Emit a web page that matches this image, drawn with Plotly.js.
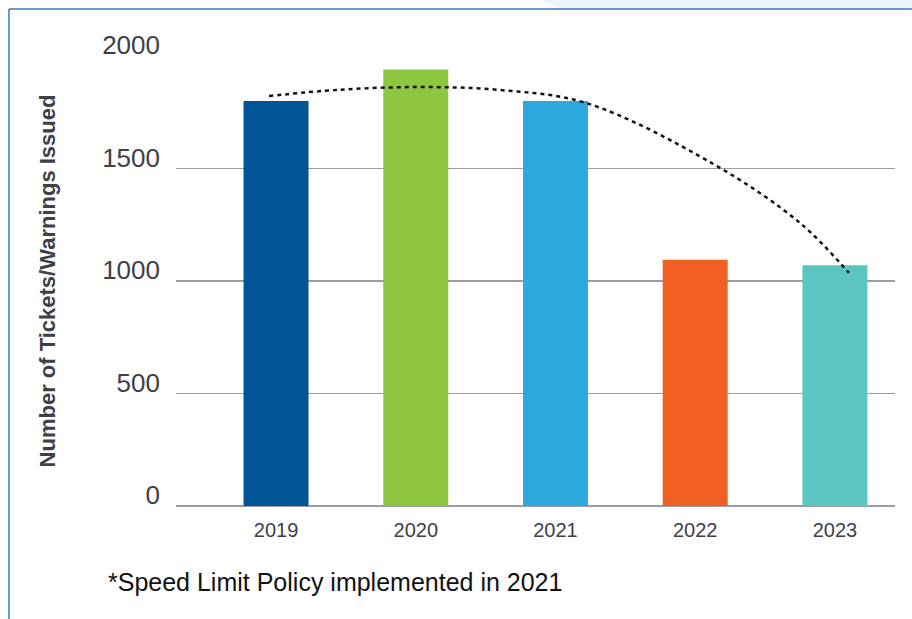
<!DOCTYPE html>
<html>
<head>
<meta charset="utf-8">
<script src="https://cdn.plot.ly/plotly-3.0.1.min.js"></script>
<style>
  html, body { margin: 0; padding: 0; background: #ffffff; }
  #chart { width: 912px; height: 619px; }
</style>
</head>
<body>
<div id="chart"></div>
<script>
// Data
const years = ['2019', '2020', '2021', '2022', '2023'];
const tickets = [1800, 1940, 1800, 1095, 1070];
const barColors = ['#005596', '#8dc63f', '#2ea9e0', '#f06022', '#5bc5c2'];
// Hand-drawn trend arc (position along the year axis, value)
const arcX = [-0.05, 0.45, 1.03, 1.6, 2.22, 3.13, 3.75, 4.1];
const arcY = [1822, 1850, 1862, 1849, 1791, 1520, 1258, 1036];
const footnote = '*Speed Limit Policy implemented in 2021';
const yTitle = 'Number of Tickets/Warnings Issued';

const positions = years.map((_, i) => i);

const bars = {
  type: 'bar',
  x: positions,
  y: tickets,
  marker: { color: barColors, line: { width: 0 } },
  width: 0.465,
  hoverinfo: 'x+y',
  showlegend: false
};

const arc = {
  type: 'scatter',
  mode: 'lines',
  x: arcX,
  y: arcY,
  line: { color: '#111111', width: 2.5, dash: '4px,4px', shape: 'spline', smoothing: 1.0 },
  hoverinfo: 'skip',
  showlegend: false
};

const textColor = '#3d4048';

const layout = {
  width: 912,
  height: 619,
  margin: { l: 176, r: 17, t: 56, b: 113 },
  paper_bgcolor: '#ffffff',
  plot_bgcolor: '#ffffff',
  showlegend: false,
  font: { family: 'Liberation Sans, Arial, sans-serif', color: textColor },
  xaxis: {
    type: 'linear',
    range: [-0.716, 4.43],
    tickmode: 'array',
    tickvals: positions,
    ticktext: years,
    showgrid: false,
    zeroline: false,
    showline: false,
    ticks: '',
    ticklabelstandoff: 10,
    tickfont: { size: 20, color: textColor, family: 'Liberation Sans, Arial, sans-serif' },
    fixedrange: true
  },
  yaxis: {
    range: [0, 2000],
    tickmode: 'array',
    tickvals: [0, 500, 1000, 1500, 2000],
    ticktext: ['0', '500', '1000', '1500', '2000'],
    showgrid: true,
    gridcolor: '#9c9ca2',
    gridwidth: 1.5,
    zeroline: true,
    zerolinecolor: '#9c9ca2',
    zerolinewidth: 1.5,
    showline: false,
    ticks: '',
    ticklabelstandoff: 15,
    ticklabelshift: -11,
    tickfont: { size: 26, color: textColor, family: 'Liberation Sans, Arial, sans-serif' },
    title: {
      text: '<b>' + yTitle + '</b>',
      font: { size: 22, color: textColor, family: 'Liberation Sans, Arial, sans-serif' },
      standoff: 40
    },
    automargin: false,
    fixedrange: true
  },
  shapes: [
    // light blue header tab at top right
    {
      type: 'path', xref: 'paper', yref: 'paper',
      path: 'M 0.51,1.1245 L 1.0236,1.1245 L 1.0236,1.1044 L 0.535,1.1044 Z',
      fillcolor: '#eaf5fc', line: { width: 0 }, layer: 'below'
    },
    // frame: top line
    {
      type: 'line', xref: 'paper', yref: 'paper',
      x0: -0.2323, x1: 1.0236, y0: 1.1044, y1: 1.1044,
      line: { color: '#3a78b8', width: 1.5 }
    },
    // frame: left line
    {
      type: 'line', xref: 'paper', yref: 'paper',
      x0: -0.2323, x1: -0.2323, y0: 1.1044, y1: -0.26,
      line: { color: '#3a78b8', width: 1.5 }
    }
  ],
  annotations: [
    {
      text: footnote,
      xref: 'paper', yref: 'paper',
      x: -0.0974, y: -0.169,
      xanchor: 'left', yanchor: 'middle',
      showarrow: false,
      font: { size: 25, color: '#111111', family: 'Liberation Sans, Arial, sans-serif' }
    }
  ]
};

Plotly.newPlot('chart', [bars, arc], layout, { displayModeBar: false, staticPlot: true });
</script>
</body>
</html>
